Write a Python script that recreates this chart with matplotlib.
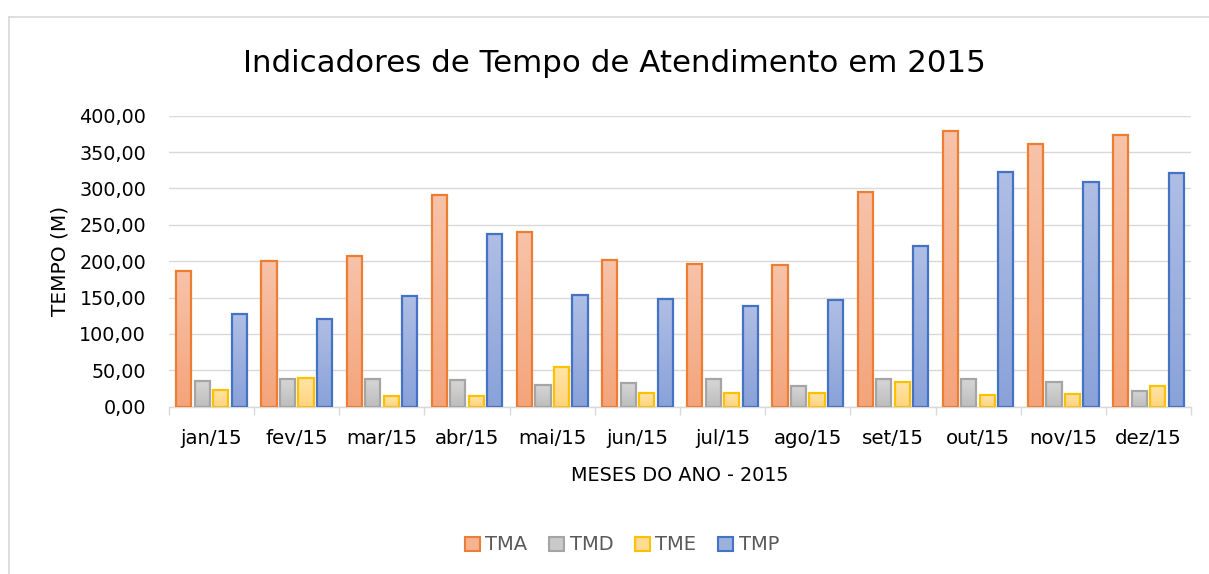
import numpy as np
import matplotlib
matplotlib.use("Agg")
import matplotlib.pyplot as plt
from matplotlib.colors import LinearSegmentedColormap
from matplotlib.lines import Line2D
from matplotlib.patches import Patch

months = ["jan/15", "fev/15", "mar/15", "abr/15", "mai/15", "jun/15",
          "jul/15", "ago/15", "set/15", "out/15", "nov/15", "dez/15"]
series_names = ["TMA", "TMD", "TME", "TMP"]
tma = [187, 200, 207, 291, 240, 201, 196, 195, 295, 379, 361, 374]
tmd = [35, 38, 38, 37, 30, 32, 38, 29, 38, 38, 34, 22]
tme = [23, 40, 15, 15, 55, 19, 19, 19, 34, 16, 18, 29]
tmp = [127, 121, 152, 238, 153, 148, 139, 146, 221, 323, 309, 321]
yticks = [0, 50, 100, 150, 200, 250, 300, 350, 400]
ytick_labels = ["0,00", "50,00", "100,00", "150,00", "200,00", "250,00",
                "300,00", "350,00", "400,00"]

edge_colors = ["#ED7D31", "#A5A5A5", "#FFC000", "#4472C4"]
grad_top = ["#F7C3AA", "#D6D6D6", "#FFE4A8", "#AFBEE4"]
grad_bot = ["#F4A47B", "#BDBDBD", "#FFD47E", "#8AA2D9"]
legend_face = ["#F6B393", "#C9C9C9", "#FFDB93", "#9CB0DE"]

W, H = 1209, 574
fig = plt.figure(figsize=(W / 100, H / 100), dpi=100)
fig.patch.set_facecolor("white")

ax = fig.add_axes([169 / W, 1 - 406.7 / H, (1191 - 169) / W, (406.7 - 115.7) / H])

x = np.arange(len(months))
slot = 18.5 / 85
bw = 0.178
data = [tma, tmd, tme, tmp]
grad = np.linspace(0, 1, 256).reshape(-1, 1)
for k, vals in enumerate(data):
    off = (k - 1.5) * slot
    bars = ax.bar(x + off, vals, width=bw, facecolor="none",
                  edgecolor=edge_colors[k], linewidth=1.6, zorder=3)
    cmap = LinearSegmentedColormap.from_list(f"g{k}", [grad_bot[k], grad_top[k]])
    for p in bars.patches:
        bx, by = p.get_x(), p.get_y()
        w, h = p.get_width(), p.get_height()
        im = ax.imshow(grad, extent=[bx, bx + w, by, by + h], origin="lower",
                       aspect="auto", cmap=cmap, zorder=2, interpolation="bilinear")
        im.set_clip_path(p)

ax.set_xlim(-0.5, len(months) - 0.5)
ax.set_ylim(0, 400)
ax.set_yticks(yticks)
ax.set_yticklabels(ytick_labels)
ax.yaxis.grid(True, color="#D9D9D9", linewidth=1.0, zorder=0)
ax.set_axisbelow(True)
for s in ["top", "right", "left"]:
    ax.spines[s].set_visible(False)
ax.spines["bottom"].set_color("#D9D9D9")
ax.spines["bottom"].set_linewidth(1.0)
ax.tick_params(axis="y", length=0, pad=16.5, labelsize=13.8, labelcolor="#000000")

ax.set_xticks(x)
ax.set_xticklabels(months)
ax.tick_params(axis="x", length=0, pad=16, labelsize=14.2, labelcolor="#000000")
ax.set_xticks(np.arange(-0.5, len(months), 1), minor=True)
ax.tick_params(axis="x", which="minor", length=6, width=1.0, color="#D9D9D9", direction="out")

ax.set_xlabel("MESES DO ANO - 2015", fontsize=13.8, color="#000000", labelpad=13)
ax.set_ylabel("TEMPO (M)", fontsize=14.5, color="#000000", labelpad=7)

fig.text(614 / W, 1 - 63 / H, "Indicadores de Tempo de Atendimento em 2015",
         ha="center", va="center", fontsize=22.2, color="#000000")

handles = [Patch(facecolor=legend_face[k], edgecolor=edge_colors[k], linewidth=1.5)
           for k in range(4)]
fig.legend(handles, series_names, loc="center", bbox_to_anchor=(622 / W, 1 - 545 / H),
           ncol=4, frameon=False, fontsize=14, labelcolor="#595959",
           handlelength=0.75, handleheight=0.75, handletextpad=0.3, columnspacing=1.12)

fig.add_artist(Line2D([8.5 / W, 8.5 / W], [0, 1 - 17 / H], color="#D9D9D9",
                      linewidth=1.2, transform=fig.transFigure))
fig.add_artist(Line2D([8.5 / W, 1], [1 - 17 / H, 1 - 17 / H], color="#D9D9D9",
                      linewidth=1.2, transform=fig.transFigure))

fig.savefig("out.png", dpi=100)
